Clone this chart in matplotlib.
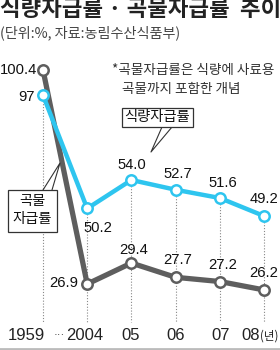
import numpy as np
import matplotlib
matplotlib.use("Agg")
import matplotlib.pyplot as plt
from matplotlib import font_manager
from matplotlib.patches import Rectangle

# ---- data ----
years = ["1959", "2004", "05", "06", "07", "08"]
year_unit = "(년)"
food_self = [97, 50.2, 54.0, 52.7, 51.6, 49.2]       # 식량자급률
grain_self = [100.4, 26.9, 29.4, 27.7, 27.2, 26.2]   # 곡물자급률
food_labels = ["97", "50.2", "54.0", "52.7", "51.6", "49.2"]
grain_labels = ["100.4", "26.9", "29.4", "27.7", "27.2", "26.2"]

names = {f.name for f in font_manager.fontManager.ttflist}
NUM = "Liberation Sans Narrow" if "Liberation Sans Narrow" in names else "Liberation Sans"
KR = "Noto Sans CJK KR"

W, H = 280, 350
fig = plt.figure(figsize=(W / 100, H / 100), dpi=100)
fig.patch.set_facecolor("white")
ax = fig.add_axes([0, 0, 1, 1])
ax.set_axis_off()

# broken (piecewise-linear) value axis, as in the illustration
V = np.array([-100, 20, 30, 48, 56, 95, 102, 200], dtype=float)
P = np.array([1355, 342, 258, 225, 165, 110, 58, -662], dtype=float)
fwd = lambda v: -np.interp(v, V, P)
inv = lambda f: np.interp(-np.asarray(f), P[::-1], V[::-1])
ax.set_yscale("function", functions=(fwd, inv))
ax.set_ylim(float(inv(-350)), float(inv(0)))
x0, dx = 43, 44.2
ax.set_xlim(-x0 / dx, (W - x0) / dx)

xs = np.arange(len(years))
GRAY = "#5e5e5e"
CYAN = "#2ec5ef"

# dotted guides
for i in xs:
    top = max(food_self[i], grain_self[i]) if i > 0 else food_self[i]
    ax.plot([i, i], [top, float(inv(-322))], ls=(0, (1, 1.6)), color="#888888",
            lw=0.8, zorder=1)

ax.plot(xs, grain_self, color=GRAY, lw=3.8, marker="o", ms=7.5, mfc="white",
        mec=GRAY, mew=1.8, zorder=3, solid_capstyle="round")
ax.plot(xs, food_self, color=CYAN, lw=3.2, marker="o", ms=7.5, mfc="white",
        mec=CYAN, mew=1.8, zorder=4, solid_capstyle="round")

# value labels (offsets in pixels)
g_off = [(-6, 0, "right"), (-9, 1, "right"), (2, 13, "center"), (2, 17, "center"),
         (3, 17, "center"), (0, 17, "center")]
f_off = [(-8, -2, "right"), (11, -20, "center"), (0, 15, "center"), (2, 16, "center"),
         (3, 15, "center"), (0, 17, "center")]
for i in xs:
    ox, oy, ha = g_off[i]
    ax.annotate(grain_labels[i], (i, grain_self[i]), xytext=(ox, oy),
                textcoords="offset pixels", ha=ha, va="center", fontsize=10.6,
                family=NUM, color="#111111", zorder=6)
    ox, oy, ha = f_off[i]
    ax.annotate(food_labels[i], (i, food_self[i]), xytext=(ox, oy),
                textcoords="offset pixels", ha=ha, va="center", fontsize=10.6,
                family=NUM, color="#111111", zorder=6)

def fx(x):
    return x / W

def fy(y):
    return 1 - y / H

# x labels
ybase = float(inv(-336))
x_off = [-17, -3, -1, 0, 1, 0]
for i, lab in enumerate(years[:-1]):
    ax.annotate(lab, (i, ybase), xytext=(x_off[i], 0), textcoords="offset pixels",
                ha="center", va="center", fontsize=12, family=NUM, color="#222222")
ax.annotate(years[-1], (len(years) - 1, ybase), xytext=(-4, 0),
            textcoords="offset pixels", ha="right", va="center", fontsize=12,
            family=NUM, color="#222222")
ax.annotate(year_unit, (len(years) - 1, ybase), xytext=(-4, 0),
            textcoords="offset pixels", ha="left", va="center", fontsize=8.3,
            family=[KR, NUM], color="#222222")
ax.annotate("···", (0, ybase), xytext=(16, 1), textcoords="offset pixels",
            ha="center", va="center", fontsize=8, family=NUM, color="#222222")

# bottom rule
fig.add_artist(plt.Line2D([0, 1], [fy(348.5), fy(348.5)], color="#bbbbbb", lw=2))

# titles
fig.text(fx(0), fy(10), "식량자급률 · 곡물자급률  추이", family=KR, fontsize=16.1,
         fontweight="bold", color="#222222", ha="left", va="center")
fig.text(fx(0), fy(33), "(단위:%, 자료:농림수산식품부)", family=KR, fontsize=10.2,
         color="#444444", ha="left", va="center")
fig.text(fx(112), fy(70), "*곡물자급률은 식량에 사료용", family=KR, fontsize=9.8,
         color="#333333", ha="left", va="center")
fig.text(fx(122), fy(89), "곡물까지 포함한 개념", family=KR, fontsize=9.8,
         color="#333333", ha="left", va="center")

# callout: 식량자급률
fig.add_artist(Rectangle((fx(122), fy(127)), fx(71), 19 / H,
                         transform=fig.transFigure, facecolor="white",
                         edgecolor="#333333", lw=0.9, zorder=5))
fig.text(fx(157.5), fy(117.5), "식량자급률", family=KR, fontsize=10.3,
         color="#111111", ha="center", va="center", zorder=6)
fig.add_artist(plt.Line2D([fx(162), fx(151), fx(172)], [fy(127), fy(152), fy(127)],
                          color="#333333", lw=0.8))

# callout: 곡물 자급률
fig.add_artist(Rectangle((fx(8), fy(232)), fx(49), 42 / H, transform=fig.transFigure,
                         facecolor="white", edgecolor="#333333", lw=0.9, zorder=5))
fig.text(fx(32.5), fy(201), "곡물", family=KR, fontsize=10.3, color="#111111",
         ha="center", va="center", zorder=6)
fig.text(fx(32.5), fy(219), "자급률", family=KR, fontsize=10.3, color="#111111",
         ha="center", va="center", zorder=6)
fig.add_artist(plt.Line2D([fx(43), fx(60), fx(52)], [fy(190), fy(163), fy(190)],
                          color="#333333", lw=0.8))

fig.savefig("out.png", dpi=100, facecolor="white")
